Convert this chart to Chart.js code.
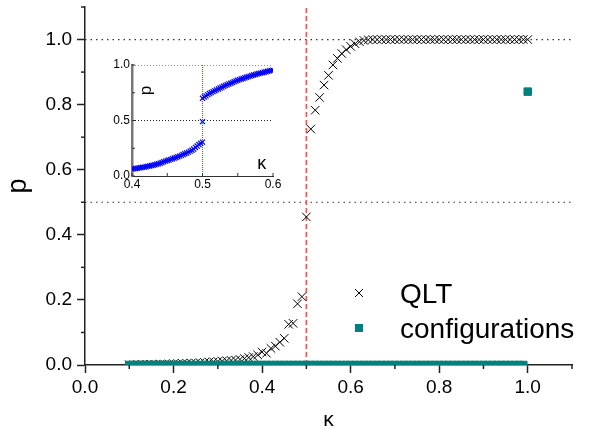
<!DOCTYPE html>
<html>
<head>
<meta charset="utf-8">
<script src="https://cdn.jsdelivr.net/npm/chart.js@4.4.0/dist/chart.umd.min.js"></script>
<style>
  html, body { margin: 0; padding: 0; background: #fff; }
  #wrap { position: relative; width: 590px; height: 433px; }
  #main { position: absolute; left: 0; top: 0; }
  #inset { position: absolute; left: 95px; top: 50px; }
</style>
</head>
<body>
<div id="wrap">
  <canvas id="main" width="590" height="433"></canvas>
  <canvas id="inset" width="190" height="145"></canvas>
</div>
<script>
// main panel: QLT prediction, kappa grid shared with configurations
const qltK = [0.10, 0.11, 0.12, 0.13, 0.14, 0.15, 0.16, 0.17, 0.18, 0.19,
  0.20, 0.21, 0.22, 0.23, 0.24, 0.25, 0.26, 0.27, 0.28, 0.29,
  0.30, 0.31, 0.32, 0.33, 0.34, 0.35, 0.36, 0.37, 0.38, 0.39,
  0.40, 0.41, 0.42, 0.43, 0.44, 0.45, 0.46, 0.47, 0.48, 0.49,
  0.50, 0.51, 0.52, 0.53, 0.54, 0.55, 0.56, 0.57, 0.58, 0.59,
  0.60, 0.61, 0.62, 0.63, 0.64, 0.65, 0.66, 0.67, 0.68, 0.69,
  0.70, 0.71, 0.72, 0.73, 0.74, 0.75, 0.76, 0.77, 0.78, 0.79,
  0.80, 0.81, 0.82, 0.83, 0.84, 0.85, 0.86, 0.87, 0.88, 0.89,
  0.90, 0.91, 0.92, 0.93, 0.94, 0.95, 0.96, 0.97, 0.98, 0.99, 1.00];
const qltP = [0.001, 0.001, 0.001, 0.002, 0.002, 0.002, 0.002, 0.003, 0.003, 0.003,
  0.004, 0.004, 0.005, 0.005, 0.006, 0.006, 0.007, 0.008, 0.009, 0.010,
  0.011, 0.012, 0.013, 0.014, 0.015, 0.017, 0.020, 0.023, 0.026, 0.031,
  0.040, 0.036, 0.051, 0.058, 0.070, 0.082, 0.125, 0.128, 0.188, 0.210,
  0.455, 0.725, 0.783, 0.822, 0.860, 0.890, 0.922, 0.942, 0.957, 0.969,
  0.979, 0.987, 0.993, 0.997, 0.999, 1.0, 1.0, 1.0, 1.0, 1.0,
  1.0, 1.0, 1.0, 1.0, 1.0, 1.0, 1.0, 1.0, 1.0, 1.0,
  1.0, 1.0, 1.0, 1.0, 1.0, 1.0, 1.0, 1.0, 1.0, 1.0,
  1.0, 1.0, 1.0, 1.0, 1.0, 1.0, 1.0, 1.0, 1.0, 1.0, 1.0];
const confP = [0, 0, 0, 0, 0, 0, 0, 0, 0, 0,
  0, 0, 0, 0, 0, 0, 0, 0, 0, 0,
  0, 0, 0, 0, 0, 0, 0, 0, 0, 0,
  0, 0, 0, 0, 0, 0, 0, 0, 0, 0,
  0, 0, 0, 0, 0, 0, 0, 0, 0, 0,
  0, 0, 0, 0, 0, 0, 0, 0, 0, 0,
  0, 0, 0, 0, 0, 0, 0, 0, 0, 0,
  0, 0, 0, 0, 0, 0, 0, 0, 0, 0,
  0, 0, 0, 0, 0, 0, 0, 0, 0, 0, 0.84];
const seriesNames = ['QLT', 'configurations'];
const refLevels = [0.5, 1.0];
const kappaC = 0.5;

// inset: zoom around the transition
const insetLowK = [0.4000, 0.4025, 0.4050, 0.4075, 0.4100, 0.4125, 0.4150, 0.4175, 0.4200, 0.4225,
  0.4250, 0.4275, 0.4300, 0.4325, 0.4350, 0.4375, 0.4400, 0.4425, 0.4450, 0.4475,
  0.4500, 0.4525, 0.4550, 0.4575, 0.4600, 0.4625, 0.4650, 0.4675, 0.4700, 0.4725,
  0.4750, 0.4775, 0.4800, 0.4825, 0.4850, 0.4875, 0.4900, 0.4925, 0.4950, 0.4975, 0.5000];
const insetLowP = [0.062, 0.066, 0.068, 0.070, 0.073, 0.075, 0.078, 0.080, 0.083, 0.087,
  0.090, 0.094, 0.097, 0.101, 0.106, 0.110, 0.115, 0.121, 0.128, 0.134,
  0.140, 0.144, 0.150, 0.156, 0.162, 0.167, 0.173, 0.179, 0.186, 0.193,
  0.200, 0.207, 0.215, 0.224, 0.232, 0.243, 0.257, 0.270, 0.283, 0.295, 0.305];
const insetMidK = [0.5];
const insetMidP = [0.49];
const insetHighK = [0.5000, 0.5025, 0.5050, 0.5075, 0.5100, 0.5125, 0.5150, 0.5175, 0.5200, 0.5225,
  0.5250, 0.5275, 0.5300, 0.5325, 0.5350, 0.5375, 0.5400, 0.5425, 0.5450, 0.5475,
  0.5500, 0.5525, 0.5550, 0.5575, 0.5600, 0.5625, 0.5650, 0.5675, 0.5700, 0.5725,
  0.5750, 0.5775, 0.5800, 0.5825, 0.5850, 0.5875, 0.5900, 0.5925, 0.5950, 0.5975, 0.6000];
const insetHighP = [0.700, 0.712, 0.722, 0.733, 0.743, 0.752, 0.760, 0.768, 0.776, 0.784,
  0.792, 0.800, 0.808, 0.815, 0.822, 0.829, 0.836, 0.843, 0.850, 0.856,
  0.862, 0.868, 0.874, 0.879, 0.885, 0.890, 0.895, 0.900, 0.905, 0.910,
  0.914, 0.919, 0.923, 0.927, 0.931, 0.935, 0.939, 0.943, 0.947, 0.950, 0.954];

Chart.defaults.font.family = '"Liberation Sans", Arial, sans-serif';
Chart.defaults.color = '#000';
Chart.defaults.animation = false;

const axisColor = '#222';
const teal = '#008080';

const pts = (xs, ys) => xs.map((x, i) => ({ x: x, y: ys[i] }));
const isMajor = v => Math.round(v * 10) % 2 === 0;
const noEdgePad = s => { s.paddingTop = 0; s.paddingBottom = 0; s.paddingLeft = 0; s.paddingRight = 0; };

// short minor ticks (odd tenths) drawn outside the axes
const minorTicks = {
  id: 'minorTicks',
  afterDraw(chart) {
    const { ctx, chartArea, scales } = chart;
    ctx.save();
    ctx.strokeStyle = axisColor;
    ctx.lineWidth = 1.5;
    scales.x.ticks.forEach(t => {
      if (isMajor(t.value)) return;
      const px = scales.x.getPixelForValue(t.value);
      ctx.beginPath();
      ctx.moveTo(px, chartArea.bottom);
      ctx.lineTo(px, chartArea.bottom + 4);
      ctx.stroke();
    });
    scales.y.ticks.forEach(t => {
      if (isMajor(t.value)) return;
      const py = scales.y.getPixelForValue(t.value);
      ctx.beginPath();
      ctx.moveTo(chartArea.left, py);
      ctx.lineTo(chartArea.left - 4, py);
      ctx.stroke();
    });
    ctx.restore();
  }
};

// legend placed inside the plot, lower right
const innerLegend = {
  id: 'innerLegend',
  afterDatasetsDraw(chart) {
    const { ctx } = chart;
    const mx = 359, tx = 400;
    ctx.save();
    ctx.strokeStyle = '#000';
    ctx.lineWidth = 1;
    ctx.beginPath();
    ctx.moveTo(mx - 4, 289); ctx.lineTo(mx + 4, 297);
    ctx.moveTo(mx + 4, 289); ctx.lineTo(mx - 4, 297);
    ctx.stroke();
    ctx.fillStyle = teal;
    ctx.fillRect(mx - 4, 324, 8, 8);
    ctx.fillStyle = '#000';
    ctx.font = '28px "Liberation Sans", Arial, sans-serif';
    ctx.textBaseline = 'alphabetic';
    ctx.fillText(seriesNames[0], tx, 303);
    ctx.fillText(seriesNames[1], tx, 338);
    ctx.restore();
  }
};

new Chart(document.getElementById('main'), {
  type: 'scatter',
  data: {
    datasets: [
      {
        label: seriesNames[0],
        data: pts(qltK, qltP),
        pointStyle: 'crossRot',
        pointRadius: 6,
        borderColor: '#000',
        backgroundColor: '#000',
        borderWidth: 1,
        order: 1
      },
      {
        label: seriesNames[1],
        data: pts(qltK, confP),
        pointStyle: 'rect',
        pointRadius: 5.3,
        borderColor: teal,
        backgroundColor: teal,
        borderWidth: 1,
        order: 0
      },
      ...refLevels.map(v => ({
        data: [{ x: 0, y: v }, { x: 1.1, y: v }],
        showLine: true,
        borderColor: '#333',
        borderWidth: 1.2,
        borderDash: [1.5, 4],
        pointRadius: 0,
        order: 3
      })),
      {
        data: [{ x: kappaC, y: 0 }, { x: kappaC, y: 1.1 }],
        showLine: true,
        borderColor: 'rgb(250,80,80)',
        borderWidth: 1.6,
        borderDash: [5, 3],
        pointRadius: 0,
        order: 2
      }
    ]
  },
  options: {
    responsive: false,
    events: [],
    layout: { padding: { top: 7, right: 18, left: 0, bottom: 0 } },
    plugins: { legend: { display: false }, tooltip: { enabled: false } },
    scales: {
      x: {
        type: 'linear', min: 0, max: 1.1,
        afterFit: s => { s.height = 68; noEdgePad(s); },
        ticks: {
          stepSize: 0.1, autoSkip: false, maxRotation: 0, padding: 3,
          font: { size: 19 },
          callback: v => isMajor(v) ? v.toFixed(1) : ''
        },
        grid: {
          drawOnChartArea: false, tickLength: 8, tickWidth: 1.5,
          tickColor: c => isMajor(c.tick.value) ? axisColor : 'rgba(0,0,0,0)'
        },
        border: { color: axisColor, width: 1.5 },
        title: { display: true, text: 'κ', font: { size: 21 }, padding: { top: 0, bottom: 0 } }
      },
      y: {
        type: 'linear', min: 0, max: 1.1,
        afterFit: s => { s.width = 85; noEdgePad(s); },
        ticks: {
          stepSize: 0.1, autoSkip: false, padding: 5,
          font: { size: 19 },
          callback: v => isMajor(v) ? v.toFixed(1) : ''
        },
        grid: {
          drawOnChartArea: false, tickLength: 8, tickWidth: 1.5,
          tickColor: c => isMajor(c.tick.value) ? axisColor : 'rgba(0,0,0,0)'
        },
        border: { color: axisColor, width: 1.5 },
        title: { display: true, text: 'p', font: { size: 27 }, padding: { top: 2, bottom: 0 } }
      }
    }
  },
  plugins: [minorTicks, innerLegend]
});

// inset labels sit inside its plot area
const insetLabels = {
  id: 'insetLabels',
  afterDraw(chart) {
    const { ctx, scales } = chart;
    ctx.save();
    ctx.fillStyle = '#000';
    ctx.textAlign = 'center';
    ctx.textBaseline = 'middle';
    ctx.font = '17px "Liberation Sans", Arial, sans-serif';
    ctx.translate(scales.x.getPixelForValue(0.421), scales.y.getPixelForValue(0.77));
    ctx.rotate(-Math.PI / 2);
    ctx.fillText('p', 0, 0);
    ctx.restore();
    ctx.save();
    ctx.fillStyle = '#000';
    ctx.textAlign = 'center';
    ctx.textBaseline = 'middle';
    ctx.font = '18px "Liberation Sans", Arial, sans-serif';
    ctx.fillText('κ', scales.x.getPixelForValue(0.584), scales.y.getPixelForValue(0.11));
    ctx.restore();
    // small inward ticks
    ctx.save();
    ctx.strokeStyle = '#333';
    ctx.lineWidth = 1;
    const a = chart.chartArea;
    scales.x.ticks.forEach(t => {
      const px = scales.x.getPixelForValue(t.value);
      ctx.beginPath(); ctx.moveTo(px, a.bottom); ctx.lineTo(px, a.bottom - 3); ctx.stroke();
    });
    scales.y.ticks.forEach(t => {
      const py = scales.y.getPixelForValue(t.value);
      ctx.beginPath(); ctx.moveTo(a.left, py); ctx.lineTo(a.left + 3, py); ctx.stroke();
    });
    ctx.restore();
  }
};

const blueX = {
  showLine: false, pointStyle: 'crossRot', pointRadius: 3.6,
  borderColor: '#0000ff', backgroundColor: '#0000ff', borderWidth: 1.2
};

new Chart(document.getElementById('inset'), {
  type: 'scatter',
  data: {
    datasets: [
      Object.assign({ data: pts(insetLowK, insetLowP) }, blueX),
      Object.assign({ data: pts(insetMidK, insetMidP) }, blueX),
      Object.assign({ data: pts(insetHighK, insetHighP) }, blueX),
      ...refLevels.map(v => ({
        data: [{ x: 0.4, y: v }, { x: 0.6, y: v }],
        showLine: true, borderColor: '#222', borderWidth: 1,
        borderDash: [1, 2], pointRadius: 0, order: 2
      })),
      {
        data: [{ x: kappaC, y: 0 }, { x: kappaC, y: 1 }],
        showLine: true, borderColor: '#ff2020', borderWidth: 1,
        borderDash: [1, 1], pointRadius: 0, order: 2
      }
    ]
  },
  options: {
    responsive: false,
    events: [],
    layout: { padding: { top: 15, right: 12, left: 0, bottom: 0 } },
    plugins: { legend: { display: false }, tooltip: { enabled: false } },
    scales: {
      x: {
        type: 'linear', min: 0.4, max: 0.6,
        afterFit: s => { s.height = 19; },
        ticks: {
          stepSize: 0.05, autoSkip: false, maxRotation: 0, padding: 1,
          font: { size: 12 },
          callback: v => Math.round(v * 100) % 10 === 0 ? v.toFixed(1) : ''
        },
        grid: { drawOnChartArea: false, drawTicks: false },
        border: { color: '#333', width: 1 }
      },
      y: {
        type: 'linear', min: 0, max: 1,
        afterFit: s => { s.width = 37; },
        ticks: {
          stepSize: 0.25, autoSkip: false, padding: 2,
          font: { size: 12 },
          callback: v => Math.round(v * 100) % 50 === 0 ? v.toFixed(1) : ''
        },
        grid: { drawOnChartArea: false, drawTicks: false },
        border: { color: '#777', width: 2.5 }
      }
    }
  },
  plugins: [insetLabels]
});
</script>
</body>
</html>
